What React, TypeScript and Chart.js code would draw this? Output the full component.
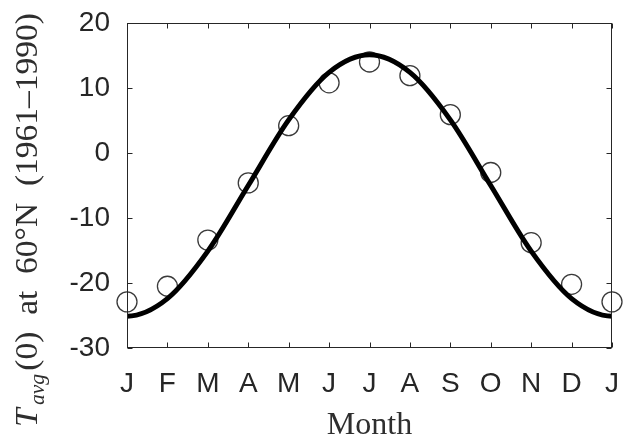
import React, { useEffect, useRef } from 'react';
import { Chart, registerables } from 'chart.js';

Chart.register(...registerables);

// ---- data ----
const monthLabels = ['J', 'F', 'M', 'A', 'M', 'J', 'J', 'A', 'S', 'O', 'N', 'D', 'J'];
const observedTemps = [-22.9, -20.5, -13.4, -4.6, 4.2, 10.8, 14.0, 11.9, 5.9, -3.0, -13.8, -20.2, -22.9];
// fitted curve read at each month, from the December before (x = -1) to the February after (x = 13)
const fitMonthIndex = [-1, 0, 1, 2, 3, 4, 5, 6, 7, 8, 9, 10, 11, 12, 13];
const fittedTemps = [-22.4, -25.1, -22.4, -15.1, -5.0, 5.1, 12.4, 15.1, 12.4, 5.1, -5.0, -15.1, -22.4, -25.1, -22.4];
const yTickValues = [-30, -20, -10, 0, 10, 20];

const xTitle = 'Month';
const yTitleMain = 'T';
const yTitleSub = 'avg';
const yTitleRest = '(0)  at  60°N  (1961–1990)';

const AXIS_COLOR = '#262626';
const SANS = '"Liberation Sans", Arial, sans-serif';
const SERIF = '"Liberation Serif", "Times New Roman", serif';

const framePlugin = {
  id: 'frameTicks',
  afterDatasetsDraw(chart: any) {
    const { ctx, chartArea, scales } = chart;
    const { left, right, top, bottom } = chartArea;
    const L = Math.round(left) + 0.5;
    const R = Math.round(right) - 0.5;
    const T = Math.round(top) + 0.5;
    const B = Math.round(bottom) - 0.5;
    ctx.save();
    ctx.strokeStyle = AXIS_COLOR;
    ctx.lineWidth = 1;
    ctx.strokeRect(L, T, R - L, B - T);
    const tl = 5;
    ctx.beginPath();
    scales.x.ticks.forEach((t: any) => {
      const px = Math.round(scales.x.getPixelForValue(t.value)) + 0.5;
      ctx.moveTo(px, B);
      ctx.lineTo(px, B - tl);
      ctx.moveTo(px, T);
      ctx.lineTo(px, T + tl);
    });
    scales.y.ticks.forEach((t: any) => {
      const py = Math.round(scales.y.getPixelForValue(t.value)) + 0.5;
      ctx.moveTo(L, py);
      ctx.lineTo(L + tl, py);
      ctx.moveTo(R, py);
      ctx.lineTo(R - tl, py);
    });
    ctx.stroke();
    ctx.restore();
  },
};

const yTitlePlugin = {
  id: 'yTitle',
  afterDraw(chart: any) {
    const { ctx } = chart;
    const mainFont = `italic 31px ${SERIF}`;
    const subFont = `italic 20px ${SERIF}`;
    const restFont = `31px ${SERIF}`;
    ctx.save();
    ctx.fillStyle = '#2e2e2e';
    ctx.textBaseline = 'alphabetic';
    ctx.textAlign = 'left';
    ctx.font = mainFont;
    const w1 = ctx.measureText(yTitleMain).width;
    ctx.font = subFont;
    const w2 = ctx.measureText(yTitleSub).width;
    ctx.font = restFont;
    const w3 = ctx.measureText(yTitleRest).width;
    const gap1 = 3;
    const gap2 = 3;
    const total = w1 + gap1 + w2 + gap2 + w3;
    const targetLength = 414;
    const centerY = 220;
    ctx.translate(37, centerY);
    ctx.rotate(-Math.PI / 2);
    ctx.scale(targetLength / total, 1);
    let x = -total / 2;
    ctx.font = mainFont;
    ctx.fillText(yTitleMain, x, 0);
    x += w1 + gap1;
    ctx.font = subFont;
    ctx.fillText(yTitleSub, x, 7);
    x += w2 + gap2;
    ctx.font = restFont;
    ctx.fillText(yTitleRest, x, 0);
    ctx.restore();
  },
};

export default function App() {
  const canvasRef = useRef<HTMLCanvasElement | null>(null);

  useEffect(() => {
    document.body.style.margin = '0';
    const canvas = canvasRef.current;
    if (!canvas) return;
    const chart = new Chart(canvas, {
      type: 'line',
      data: {
        datasets: [
          {
            label: 'fit',
            data: fitMonthIndex.map((m, i) => ({ x: m, y: fittedTemps[i] })),
            borderColor: '#000000',
            borderWidth: 5,
            pointRadius: 0,
            cubicInterpolationMode: 'monotone',
            fill: false,
            clip: 0,
            order: 0,
          },
          {
            label: 'observed',
            data: monthLabels.map((_, i) => ({ x: i, y: observedTemps[i] })),
            showLine: false,
            pointRadius: 10,
            pointStyle: 'circle',
            pointBorderWidth: 1.3,
            pointBorderColor: '#3a3a3a',
            pointBackgroundColor: 'rgba(0,0,0,0)',
            clip: false,
            order: 1,
          },
        ],
      } as any,
      options: {
        animation: false,
        responsive: false,
        events: [],
        layout: { padding: { left: 0, right: 14, top: 23, bottom: 0 } },
        plugins: {
          legend: { display: false },
          tooltip: { enabled: false },
          title: { display: false },
        },
        scales: {
          x: {
            type: 'linear',
            min: 0,
            max: 12,
            afterBuildTicks(scale: any) {
              scale.ticks = monthLabels.map((_, i) => ({ value: i }));
            },
            afterFit(scale: any) {
              scale.height = 94;
              scale.paddingLeft = 0;
              scale.paddingRight = 0;
            },
            grid: { display: false, drawTicks: false },
            border: { display: false },
            ticks: {
              autoSkip: false,
              maxRotation: 0,
              padding: 19,
              color: AXIS_COLOR,
              font: { family: SANS, size: 28 },
              callback: (v: any) => monthLabels[Math.round(Number(v))] ?? '',
            },
            title: {
              display: true,
              text: xTitle,
              color: '#2e2e2e',
              font: { family: SERIF, size: 32, lineHeight: 1 },
              padding: { top: 0, bottom: 0 },
            },
          },
          y: {
            type: 'linear',
            min: -30,
            max: 20,
            afterBuildTicks(scale: any) {
              scale.ticks = yTickValues.map((v) => ({ value: v }));
            },
            afterFit(scale: any) {
              scale.width = 127;
              scale.paddingTop = 0;
              scale.paddingBottom = 0;
            },
            grid: { display: false, drawTicks: false },
            border: { display: false },
            ticks: {
              padding: 17,
              color: AXIS_COLOR,
              font: { family: SANS, size: 28 },
            },
          },
        },
      } as any,
      plugins: [framePlugin, yTitlePlugin],
    });
    return () => chart.destroy();
  }, []);

  return (
    <div style={{ position: 'fixed', left: 0, top: 0, width: 626, height: 442, background: '#ffffff' }}>
      <canvas ref={canvasRef} width={626} height={442} />
    </div>
  );
}
